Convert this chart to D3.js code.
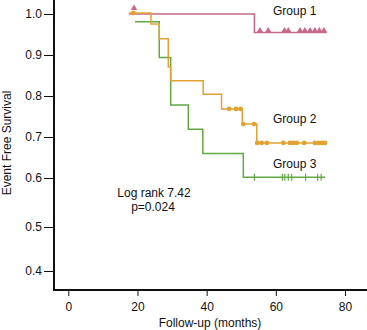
<!DOCTYPE html>
<html>
<head>
<meta charset="utf-8">
<script src="https://cdn.jsdelivr.net/npm/d3@7"></script>
<style>
  body { margin: 0; background: #fff; }
  text { font-family: "Liberation Sans", Arial, sans-serif; font-size: 12px; fill: #111; }
</style>
</head>
<body>
<script>
const width = 367, height = 330;

// survival steps: [months, survival after the step]
const group1Steps = [[17.5, 1.0], [53.8, 0.955], [74.7, 0.955]];
const group2Steps = [[17.5, 1.0], [23.9, 0.973], [26.3, 0.937], [28.9, 0.869], [29.6, 0.835],
                     [39.0, 0.802], [44.3, 0.766], [50.3, 0.729], [54.5, 0.683], [74.7, 0.683]];
const group3Steps = [[19.3, 0.981], [26.3, 0.894], [29.6, 0.778], [34.7, 0.719], [38.9, 0.660],
                     [50.6, 0.602], [74.2, 0.602]];

// censored times
const group1Censor = [19.0, 55.4, 57.8, 62.5, 63.6, 67.0, 68.4, 69.9, 71.3, 72.6, 73.9];
const group2Censor = [18.8, 46.5, 48.5, 49.8, 50.6, 53.7, 54.6, 55.9, 57.4, 62.2, 64.1, 65.0,
                      66.0, 68.2, 71.3, 72.3, 73.3, 74.2];
const group3Censor = [53.8, 61.9, 62.6, 63.6, 64.6, 68.6, 72.1, 73.1];

const xTicks = [0, 20, 40, 60, 80];
const yTicks = [0.4, 0.5, 0.6, 0.7, 0.8, 0.9, 1.0];

const colors = { g1: '#c8688b', g2: '#e2a232', g3: '#62a944' };

const svg = d3.select('body').append('svg')
    .attr('width', width).attr('height', height);

const x = d3.scaleLinear().domain([0, 80]).range([68.3, 345]);
// the printed axis is not evenly spaced below 0.6
const y = d3.scaleLinear().domain([0.4, 0.5, 0.6, 1.0]).range([271, 227, 178, 14]);

const left = 54, bottom = 290;

// axes
const yAxis = svg.append('g').attr('transform', `translate(${left},0)`)
    .call(d3.axisLeft(y).tickValues(yTicks).tickFormat(d3.format('.1f')).tickSize(10).tickPadding(2));
const xAxis = svg.append('g').attr('transform', `translate(0,${bottom})`)
    .call(d3.axisBottom(x).tickValues(xTicks).tickSize(6).tickPadding(6));
svg.selectAll('.domain').remove();
svg.selectAll('.tick line').attr('stroke', '#111');
svg.selectAll('.tick text').style('font-size', '12px').attr('fill', '#111');

svg.append('line').attr('x1', left).attr('x2', left).attr('y1', 0).attr('y2', bottom + 1)
    .attr('stroke', '#111').attr('stroke-width', 2);
svg.append('line').attr('x1', left - 1).attr('x2', width).attr('y1', bottom).attr('y2', bottom)
    .attr('stroke', '#111').attr('stroke-width', 2);

// axis titles
svg.append('text').attr('x', 210).attr('y', 327).attr('text-anchor', 'middle').text('Follow-up (months)');
svg.append('text').attr('transform', 'translate(11,143) rotate(-90)').attr('text-anchor', 'middle')
    .text('Event Free Survival');

const line = d3.line().x(d => x(d[0])).y(d => y(d[1])).curve(d3.curveStepAfter);

function survAt(steps, t) {
  let s = steps[0][1];
  steps.forEach(d => { if (d[0] <= t) s = d[1]; });
  return s;
}

// group 3 (green, tick marks)
svg.append('path').datum(group3Steps).attr('d', line)
    .attr('fill', 'none').attr('stroke', colors.g3).attr('stroke-width', 1.5);
svg.append('g').selectAll('line').data(group3Censor).join('line')
    .attr('x1', d => x(d)).attr('x2', d => x(d))
    .attr('y1', d => y(survAt(group3Steps, d)) - 3.5)
    .attr('y2', d => y(survAt(group3Steps, d)) + 3.5)
    .attr('stroke', colors.g3).attr('stroke-width', 1.2);

// group 1 (pink, triangles)
svg.append('path').datum(group1Steps).attr('d', line)
    .attr('fill', 'none').attr('stroke', colors.g1).attr('stroke-width', 1.5);

// group 2 (orange, dots)
svg.append('path').datum(group2Steps).attr('d', line)
    .attr('transform', 'translate(0,-1)')
    .attr('fill', 'none').attr('stroke', colors.g2).attr('stroke-width', 1.5);
svg.append('g').selectAll('circle').data(group2Censor).join('circle')
    .attr('cx', d => x(d)).attr('cy', d => y(survAt(group2Steps, d)) - 1)
    .attr('r', 2.4).attr('fill', colors.g2);

svg.append('g').selectAll('path').data(group1Censor).join('path')
    .attr('d', d => {
      const cx = x(d), cy = y(survAt(group1Steps, d));
      const base = d < 20 ? cy - 4 : cy;
      return `M${cx - 3.3},${base}L${cx},${base - 5.5}L${cx + 3.3},${base}Z`;
    })
    .attr('fill', colors.g1);

// labels
svg.append('text').attr('x', 273).attr('y', 14.5).text('Group 1');
svg.append('text').attr('x', 273).attr('y', 122.5).text('Group 2');
svg.append('text').attr('x', 273).attr('y', 167.5).text('Group 3');
svg.append('text').attr('x', 154).attr('y', 197).attr('text-anchor', 'middle').text('Log rank 7.42');
svg.append('text').attr('x', 153).attr('y', 211).attr('text-anchor', 'middle').text('p=0.024');
</script>
</body>
</html>
